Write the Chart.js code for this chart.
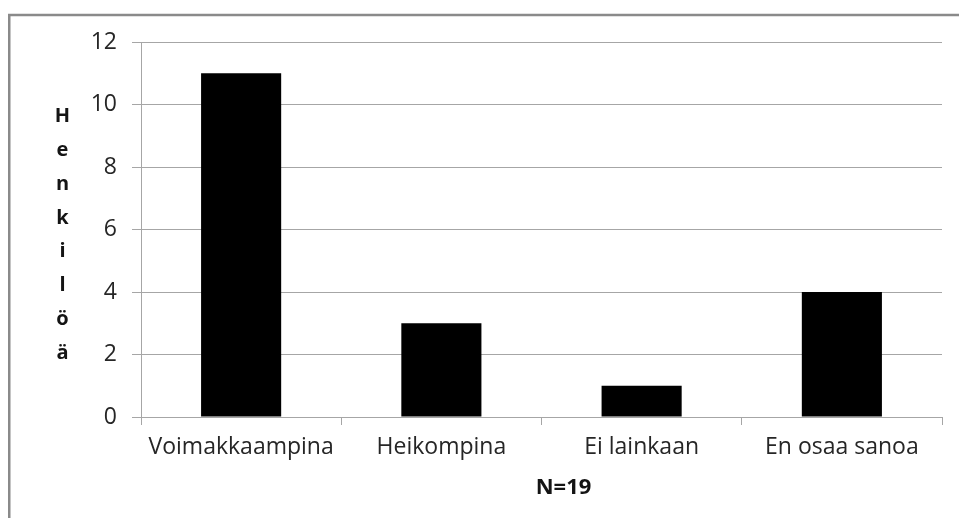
<!DOCTYPE html>
<html>
<head>
<meta charset="utf-8">
<script src="https://cdn.jsdelivr.net/npm/chart.js@4/dist/chart.umd.min.js"></script>
<style>
  html, body { margin: 0; padding: 0; background: #ffffff; }
  #wrap { width: 959px; height: 518px; }
</style>
</head>
<body>
<div id="wrap"><canvas id="c" width="959" height="518"></canvas></div>
<script>
// Vastaukset: kuinka moni koki asian voimakkaampana / heikompana jne.
const categories = ['Voimakkaampina', 'Heikompina', 'Ei lainkaan', 'En osaa sanoa'];
const henkiloita = [11, 3, 1, 4];
const yTitle = 'Henkilöä';
const xTitle = 'N=19';

const FONT = '"Open Sans", "DejaVu Sans", sans-serif';
const TEXT = '#262626';
const GRID = '#a6a6a6';

// Outer frame, stacked vertical y title and the N label
const decor = {
  id: 'decor',
  beforeDraw(chart) {
    const ctx = chart.ctx;
    ctx.save();
    ctx.fillStyle = '#ffffff';
    ctx.fillRect(0, 0, chart.width, chart.height);
    ctx.restore();
  },
  afterDraw(chart) {
    const ctx = chart.ctx;
    const area = chart.chartArea;
    ctx.save();
    // frame, running off the right and bottom edges
    ctx.strokeStyle = '#8a8a8a';
    ctx.lineWidth = 2.5;
    ctx.strokeRect(9.25, 15, chart.width + 20, chart.height + 20);

    // y title, one letter per row
    ctx.fillStyle = '#141414';
    ctx.font = 'bold 20px ' + FONT;
    ctx.textAlign = 'center';
    ctx.textBaseline = 'alphabetic';
    const letters = Array.from(yTitle);
    const step = 33.86;
    letters.forEach((ch, i) => {
      ctx.fillText(ch, 62.5, area.top + 80 + i * step);
    });

    // x title
    ctx.font = 'bold 22px ' + FONT;
    ctx.fillText(xTitle, 563.5, area.bottom + 77);
    ctx.restore();
  }
};

new Chart(document.getElementById('c'), {
  type: 'bar',
  data: {
    labels: categories,
    datasets: [{
      data: henkiloita,
      backgroundColor: '#000000',
      borderWidth: 0,
      categoryPercentage: 1.0,
      barPercentage: 0.4
    }]
  },
  options: {
    responsive: false,
    devicePixelRatio: 1,
    animation: false,
    layout: { padding: { left: 0, top: 42, right: 17, bottom: 0 } },
    plugins: {
      legend: { display: false },
      tooltip: { enabled: false }
    },
    scales: {
      x: {
        grid: {
          display: true,
          drawOnChartArea: false,
          drawTicks: true,
          tickLength: 8,
          color: GRID,
          offset: true
        },
        border: { display: true, color: GRID, width: 1 },
        ticks: {
          color: TEXT,
          font: { family: FONT, size: 23 },
          padding: 9,
          maxRotation: 0
        },
        afterFit(scale) { scale.height = 101; }
      },
      y: {
        min: 0,
        max: 12,
        grid: {
          color: GRID,
          tickLength: 9,
          drawTicks: true
        },
        border: { display: true, color: GRID, width: 1 },
        ticks: {
          stepSize: 2,
          color: TEXT,
          font: { family: FONT, size: 23 },
          padding: 15
        },
        afterFit(scale) { scale.width = 141; }
      }
    }
  },
  plugins: [decor]
});
</script>
</body>
</html>
